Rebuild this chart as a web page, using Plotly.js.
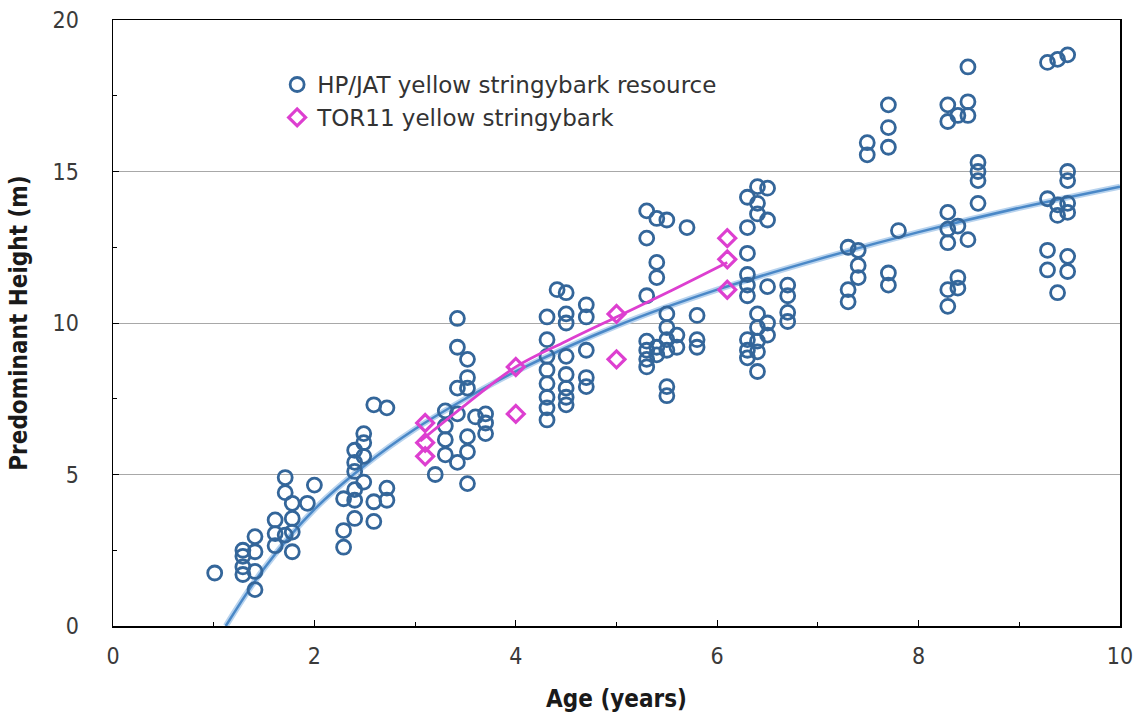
<!DOCTYPE html>
<html>
<head>
<meta charset="utf-8">
<script src="https://cdn.plot.ly/plotly-3.0.1.min.js"></script>
<style>html,body{margin:0;padding:0;background:#fff;}#chart{width:1139px;height:718px;}</style>
</head>
<body>
<div id="chart"></div>
<script>
// HP/JAT yellow stringybark resource (age in years, predominant height in m)
const hpAge = [
  1.01,
  1.29,1.29,1.29,1.29,
  1.41,1.41,1.41,1.41,
  1.61,1.61,1.61,
  1.71,1.71,1.71,
  1.78,1.78,1.78,1.78,
  1.93,
  2.0,
  2.29,2.29,2.29,
  2.4,2.4,2.4,2.4,2.4,2.4,
  2.49,2.49,2.49,2.49,
  2.59,2.59,2.59,
  2.72,2.72,2.72,
  3.2,
  3.3,3.3,3.3,3.3,
  3.42,3.42,3.42,3.42,3.42,
  3.52,3.52,3.52,3.52,3.52,3.52,
  3.6,
  3.7,3.7,3.7,
  4.31,4.31,4.31,4.31,4.31,4.31,4.31,4.31,
  4.41,
  4.5,4.5,4.5,4.5,4.5,4.5,4.5,4.5,
  4.7,4.7,4.7,4.7,4.7,
  5.3,5.3,5.3,5.3,5.3,5.3,5.3,
  5.4,5.4,5.4,5.4,5.4,
  5.5,5.5,5.5,5.5,5.5,5.5,5.5,
  5.6,5.6,
  5.7,
  5.8,5.8,5.8,
  6.3,6.3,6.3,6.3,6.3,6.3,6.3,6.3,6.3,
  6.4,6.4,6.4,6.4,6.4,6.4,6.4,6.4,
  6.5,6.5,6.5,6.5,6.5,
  6.7,6.7,6.7,6.7,
  7.3,7.3,7.3,
  7.4,7.4,7.4,
  7.49,7.49,
  7.7,7.7,7.7,7.7,7.7,
  7.8,
  8.29,8.29,8.29,8.29,8.29,8.29,8.29,
  8.39,8.39,8.39,8.39,
  8.49,8.49,8.49,8.49,
  8.59,8.59,8.59,8.59,
  9.28,9.28,9.28,9.28,
  9.38,9.38,9.38,9.38,
  9.48,9.48,9.48,9.48,9.48,9.48,9.48
];
const hpHeight = [
  1.75,
  2.5,2.3,1.95,1.7,
  2.95,2.45,1.8,1.2,
  3.5,3.05,2.65,
  4.9,4.4,3.0,
  4.05,3.55,3.1,2.45,
  4.05,
  4.65,
  3.15,2.6,4.2,
  5.8,5.4,5.1,4.5,4.15,3.55,
  6.35,6.05,5.6,4.75,
  4.1,3.45,7.3,
  4.55,4.15,7.2,
  5.0,
  7.1,6.6,6.15,5.65,
  10.15,9.2,7.85,7.0,5.4,
  8.8,8.2,7.85,6.25,5.75,4.7,
  6.9,
  7.0,6.7,6.35,
  10.2,9.45,8.9,8.45,8.0,7.55,7.2,6.8,
  11.1,
  11.0,10.3,10.0,8.9,8.3,7.85,7.55,7.3,
  10.6,10.2,9.1,8.2,7.9,
  13.7,12.8,10.9,9.4,9.1,8.8,8.55,
  13.45,12.0,11.5,9.2,8.95,
  13.4,10.3,9.85,9.45,9.1,7.9,7.6,
  9.6,9.2,
  13.15,
  10.25,9.45,9.2,
  14.15,13.15,12.3,11.6,11.25,10.9,9.45,9.1,8.85,
  14.5,13.95,13.6,10.3,9.85,9.4,9.05,8.4,
  14.45,13.4,11.2,10.0,9.6,
  11.25,10.9,10.35,10.05,
  12.5,11.1,10.7,
  12.4,11.9,11.5,
  15.95,15.55,
  17.2,16.45,15.8,11.65,11.25,
  13.05,
  17.2,16.65,13.65,13.1,12.65,11.1,10.55,
  16.85,13.2,11.5,11.15,
  18.45,17.3,16.85,12.75,
  15.3,15.0,14.7,13.95,
  18.6,14.1,12.4,11.75,
  18.7,13.9,13.55,11.0,
  18.85,15.0,14.7,13.95,13.65,12.2,11.7
];

// TOR11 yellow stringybark
const torAge = [3.1,3.1,3.1,4.0,4.0,5.0,5.0,6.1,6.1,6.1];
const torHeight = [6.7,6.05,5.6,8.55,7.0,10.3,8.8,12.8,12.1,11.1];

// Fitted curves
const hpFitAge = [1.12,1.5,2,2.5,3,3.5,4,5,6,7,8,9,10];
const hpFitHeight = [0,1.9,3.85,5.3,6.5,7.5,8.4,9.9,11.1,12.1,13.0,13.8,14.5];
const torFitAge = [3.05,3.5,4,4.5,5,5.5,6.1];
const torFitHeight = [6.1,7.3,8.55,9.4,10.2,11.0,12.0];

const blueMark = '#34669a';
const blueLine = '#4a88c7';
const pink = '#dd3fd0';
const wideFont = 'DejaVu Sans, Liberation Sans, Arial, sans-serif';
const narrowFont = 'DejaVu Sans Condensed, Liberation Sans Narrow, DejaVu Sans, sans-serif';

const traces = [
  {x: hpFitAge, y: hpFitHeight, mode: 'lines', line: {color: '#b8d3ee', width: 6, shape: 'spline'}, showlegend: false, hoverinfo: 'skip'},
  {x: hpFitAge, y: hpFitHeight, mode: 'lines', line: {color: blueLine, width: 2.5, shape: 'spline'}, showlegend: false, hoverinfo: 'skip'},
  {x: hpAge, y: hpHeight, mode: 'markers', name: 'HP/JAT yellow stringybark resource',
   marker: {symbol: 'circle-open', size: 14, color: blueMark, line: {width: 2.8, color: blueMark}}},
  {x: torFitAge, y: torFitHeight, mode: 'lines', line: {color: pink, width: 2.8, shape: 'spline'}, showlegend: false, hoverinfo: 'skip'},
  {x: torAge, y: torHeight, mode: 'markers', name: 'TOR11 yellow stringybark',
   marker: {symbol: 'diamond-open', size: 13, color: pink, line: {width: 3.2, color: pink}}}
];

const layout = {
  width: 1139, height: 718,
  margin: {l: 113, r: 19, t: 20, b: 92},
  paper_bgcolor: '#fff', plot_bgcolor: '#fff',
  font: {family: wideFont, size: 20, color: '#333'},
  showlegend: true,
  legend: {x: 0.163, y: 0.929, xanchor: 'left', yanchor: 'top', bgcolor: 'rgba(0,0,0,0)',
           font: {family: wideFont, size: 23, color: '#333'}, tracegroupgap: 0, itemwidth: 30},
  xaxis: {
    range: [0, 10], dtick: 2, tick0: 0, showgrid: false, zeroline: false,
    showline: true, linecolor: '#000', linewidth: 1.5, mirror: true,
    ticks: 'inside', ticklen: 6, tickcolor: '#000',
    minor: {dtick: 1, ticks: 'inside', ticklen: 4, tickcolor: '#000', showgrid: false},
    tickfont: {family: narrowFont, size: 23, color: '#3a3a3a'},
    ticklabelstandoff: 9,
    title: {text: '<b>Age (years)</b>', font: {family: narrowFont, size: 24, color: '#1a1a1a'}, standoff: 22}
  },
  yaxis: {
    range: [0, 20], dtick: 5, tick0: 0, showgrid: true, gridcolor: '#a8a8a8', gridwidth: 1, zeroline: false,
    showline: true, linecolor: '#000', linewidth: 1.5, mirror: true,
    ticks: 'inside', ticklen: 6, tickcolor: '#000',
    minor: {dtick: 2.5, ticks: 'inside', ticklen: 4, tickcolor: '#000', showgrid: false},
    tickfont: {family: narrowFont, size: 23, color: '#3a3a3a'},
    ticklabelstandoff: 28,
    title: {text: '<b>Predominant Height (m)</b>', font: {family: narrowFont, size: 24, color: '#1a1a1a'}, standoff: 18}
  }
};

Plotly.newPlot('chart', traces, layout, {displayModeBar: false, staticPlot: true});
</script>
</body>
</html>
